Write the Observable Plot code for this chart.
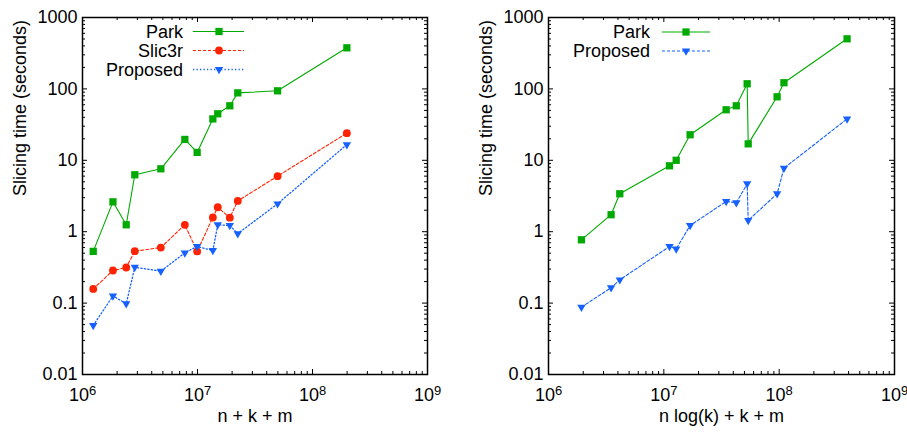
<!DOCTYPE html>
<html>
<head>
<meta charset="utf-8">
<script src="https://cdn.jsdelivr.net/npm/d3@7"></script>
<script src="https://cdn.jsdelivr.net/npm/@observablehq/plot@0.6"></script>
<style>
  html, body { margin: 0; padding: 0; background: #fff; }
  #wrap { position: relative; width: 907px; height: 433px; }
  #left, #right { position: absolute; top: 0; }
  #left { left: 0; }
  #right { left: 453px; }
  svg { font-family: "Liberation Sans", Arial, sans-serif; }
</style>
</head>
<body>
<div id="wrap"><div id="left"></div><div id="right"></div></div>
<script>
// ---- data ----
const leftX = [1.24e6, 1.84e6, 2.40e6, 2.85e6, 4.8e6, 7.76e6, 9.93e6, 1.36e7, 1.50e7, 1.91e7, 2.24e7, 4.97e7, 1.99e8];
const leftPark = [0.53, 2.62, 1.25, 6.27, 7.6, 19.6, 12.9, 38, 44.8, 58, 88, 94, 376];
const leftSlic3r = [0.158, 0.286, 0.315, 0.533, 0.60, 1.25, 0.53, 1.58, 2.2, 1.57, 2.7, 6.0, 24];
const leftProposed = [0.0486, 0.126, 0.098, 0.318, 0.28, 0.506, 0.62, 0.545, 1.25, 1.22, 0.94, 2.46, 16.6];

const rightX = [1.93e6, 3.49e6, 4.15e6, 1.12e7, 1.28e7, 1.69e7, 3.47e7, 4.25e7, 5.28e7, 5.39e7, 9.6e7, 1.10e8, 3.88e8];
const rightPark = [0.77, 1.73, 3.4, 8.37, 10, 22.8, 51, 58, 118, 17, 77.5, 122, 503];
const rightProposed = [0.088, 0.164, 0.212, 0.62, 0.575, 1.22, 2.65, 2.55, 4.69, 1.44, 3.4, 7.75, 38];

const xMajor = [1e6, 1e7, 1e8, 1e9];
const yMajor = [0.01, 0.1, 1, 10, 100, 1000];
const xLabelLeft = "n + k + m";
const xLabelRight = "n log(k) + k + m";
const yLabel = "Slicing time (seconds)";

// ---- styles ----
const GREEN = "#00aa00", RED = "#ff2200", BLUE = "#1560ff";
const styles = {
  Park: {stroke: GREEN, dash: null, symbol: "square", r: 4.1, rotate: 0, width: 1.1},
  Slic3r: {stroke: RED, dash: "3,2", symbol: "circle", r: 3.9, rotate: 0, width: 1.1},
  ProposedDot: {stroke: BLUE, dash: "1.3,2.2", symbol: "triangle", r: 3.1, rotate: 180, width: 1.3},
  ProposedDash: {stroke: BLUE, dash: "3,2", symbol: "triangle", r: 3.1, rotate: 180, width: 1.1}
};

function minors(lo, hi) {
  const out = [];
  for (let e = lo; e < hi; e++) for (let m = 2; m <= 9; m++) out.push(m * Math.pow(10, e));
  return out;
}
const xMinor = minors(6, 9);
const yMinor = minors(-2, 3);

function seriesMarks(xs, ys, st) {
  const data = xs.map((x, i) => ({x, y: ys[i]}));
  return [
    Plot.line(data, {x: "x", y: "y", stroke: st.stroke, strokeWidth: st.width, strokeDasharray: st.dash}),
    Plot.dot(data, {x: "x", y: "y", symbol: st.symbol, r: st.r, fill: st.stroke, stroke: "none", rotate: st.rotate})
  ];
}

function makePlot({width, marginLeft, marginRight, series, xLabel}) {
  const marginTop = 17, marginBottom = 59, height = 433;
  const H = height - marginTop - marginBottom;
  const W = width - marginLeft - marginRight;
  const tickStyle = {stroke: "black", strokeWidth: 1};
  const svg = Plot.plot({
    width, height, marginLeft, marginRight, marginTop, marginBottom,
    style: {fontFamily: "Liberation Sans, Arial, sans-serif", fontSize: "18px", background: "white"},
    x: {type: "log", domain: [1e6, 1e9], label: null},
    y: {type: "log", domain: [0.01, 1000], label: null},
    marks: [
      // inward ticks (major/minor) on all four sides
      Plot.ruleX(xMajor, {...tickStyle, insetTop: H - 5}),
      Plot.ruleX(xMajor, {...tickStyle, insetBottom: H - 5}),
      Plot.ruleX(xMinor, {...tickStyle, insetTop: H - 3}),
      Plot.ruleX(xMinor, {...tickStyle, insetBottom: H - 3}),
      Plot.ruleY(yMajor, {...tickStyle, insetRight: W - 5}),
      Plot.ruleY(yMajor, {...tickStyle, insetLeft: W - 5}),
      Plot.ruleY(yMinor, {...tickStyle, insetRight: W - 3}),
      Plot.ruleY(yMinor, {...tickStyle, insetLeft: W - 3}),
      Plot.axisX({ticks: xMajor, label: null, tickSize: 0, tickPadding: 14, tickFormat: d => "10^" + Math.round(Math.log10(d)), fontSize: 18, fill: "black"}),
      Plot.axisY({ticks: yMajor, label: null, tickSize: 0, tickPadding: 5, tickFormat: d => String(d), fontSize: 18, fill: "black"}),
      ...series.flatMap(s => seriesMarks(s.x, s.y, s.style)),
      Plot.frame({stroke: "black", strokeWidth: 1.5}),
      Plot.text([xLabel], {frameAnchor: "bottom", dy: 47, text: d => d, fontSize: 18, fill: "black"}),
      Plot.text([yLabel], {frameAnchor: "left", dx: -62, rotate: -90, text: d => d, fontSize: 18, fill: "black"})
    ]
  });
  // superscript exponents on x tick labels
  d3.select(svg).selectAll("g[aria-label='x-axis tick label'] text").each(function() {
    const t = d3.select(this);
    const s = this.textContent;
    if (!s.includes("^")) return;
    const [base, exp] = s.split("^");
    t.text(null);
    t.append("tspan").text(base);
    t.append("tspan").attr("font-size", 13).attr("dy", "-0.45em").text(exp);
  });
  return svg;
}

function addLegend(svg, items, {textX, lineX1, lineX2, markX, y0, dy}) {
  const g = d3.select(svg).append("g").attr("font-size", 18).attr("fill", "black");
  items.forEach((it, i) => {
    const y = y0 + i * dy;
    g.append("text").attr("x", textX).attr("y", y).attr("text-anchor", "end")
      .attr("dominant-baseline", "central").text(it.label);
    g.append("line").attr("x1", lineX1).attr("x2", lineX2).attr("y1", y).attr("y2", y)
      .attr("stroke", it.style.stroke).attr("stroke-width", it.style.width)
      .attr("stroke-dasharray", it.style.dash);
    const sym = {square: d3.symbolSquare, circle: d3.symbolCircle, triangle: d3.symbolTriangle}[it.style.symbol];
    g.append("path").attr("d", d3.symbol(sym, Math.PI * it.style.r * it.style.r)())
      .attr("transform", `translate(${markX},${y}) rotate(${it.style.rotate})`)
      .attr("fill", it.style.stroke);
  });
}

const leftSvg = makePlot({
  width: 453, marginLeft: 82, marginRight: 26, xLabel: xLabelLeft,
  series: [
    {x: leftX, y: leftPark, style: styles.Park},
    {x: leftX, y: leftSlic3r, style: styles.Slic3r},
    {x: leftX, y: leftProposed, style: styles.ProposedDot}
  ]
});
addLegend(leftSvg, [
  {label: "Park", style: styles.Park},
  {label: "Slic3r", style: styles.Slic3r},
  {label: "Proposed", style: styles.ProposedDot}
], {textX: 183, lineX1: 193, lineX2: 244, markX: 219, y0: 31.5, dy: 19});
document.getElementById("left").appendChild(leftSvg);

const rightSvg = makePlot({
  width: 454, marginLeft: 95, marginRight: 13, xLabel: xLabelRight,
  series: [
    {x: rightX, y: rightPark, style: styles.Park},
    {x: rightX, y: rightProposed, style: styles.ProposedDash}
  ]
});
addLegend(rightSvg, [
  {label: "Park", style: styles.Park},
  {label: "Proposed", style: styles.ProposedDash}
], {textX: 197, lineX1: 209, lineX2: 257, markX: 233, y0: 32, dy: 19});
document.getElementById("right").appendChild(rightSvg);
</script>
</body>
</html>
